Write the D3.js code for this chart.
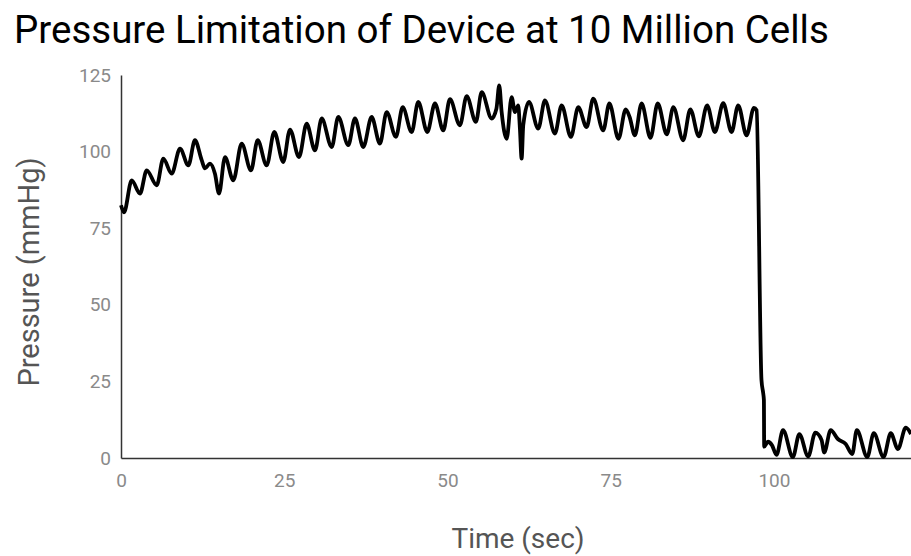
<!DOCTYPE html>
<html>
<head>
<meta charset="utf-8">
<script src="https://cdn.jsdelivr.net/npm/d3@7"></script>
<style>
  html, body { margin: 0; padding: 0; background: #fff; }
  svg { display: block; font-family: Roboto, "Noto Sans", sans-serif; }
</style>
</head>
<body>
<svg id="chart" width="911" height="556"></svg>
<script>
const title = "Pressure Limitation of Device at 10 Million Cells";
const xTitle = "Time (sec)";
const yTitle = "Pressure (mmHg)";
const xTicks = [0, 25, 50, 75, 100];
const yTicks = [0, 25, 50, 75, 100, 125];

// time (sec)
const time = [
  0, 0.46, 1.64, 2.91, 3.94, 5.47, 6.48, 7.76, 9.04, 10.31,
  11.33, 12.36, 12.86, 13.63, 14.39, 15.01, 15.93, 17.2, 18.48, 19.91,
  20.93, 22.31, 23.48, 24.85, 25.88, 27.26, 28.44, 29.71, 30.74, 32.27,
  33.28, 34.81, 35.83, 37.11, 38.39, 39.66, 40.69, 42.11, 43.14, 44.52,
  45.53, 46.91, 48.09, 49.36, 50.38, 51.91, 52.94, 54.36, 55.24, 56.77,
  57.5, 57.93, 58.3, 59.07, 59.83, 60.34, 60.84, 61.1, 61.36, 61.61,
  62.48, 63.91, 64.93, 66.46, 67.49, 68.91, 70.03, 71.32, 72.33, 73.86,
  74.8, 76.2, 77.3, 77.9, 78.7, 79.74, 81.1, 82.2, 83.6, 84.6,
  86.1, 87.2, 88.5, 89.78, 90.96, 92.24, 93.52, 94.53, 95.82, 96.94,
  97.35, 98.1, 98.36, 98.47, 98.51, 99.1, 99.7, 100.4, 101.4, 102.9,
  103.9, 105.25, 106.35, 107.3, 107.7, 108.7, 109.8, 111.0, 112.0, 112.7,
  114.3, 115.3, 116.8, 117.9, 119.0, 120.2, 121.0
];
// pressure (mmHg)
const pressure = [
  82.5, 80.2, 90.6, 86.3, 93.9, 89.0, 97.7, 92.8, 101.0, 95.5,
  103.7, 97.2, 94.5, 96.1, 92.8, 86.3, 98.2, 90.6, 102.6, 93.9,
  103.7, 95.5, 106.4, 96.6, 107.2, 98.2, 109.1, 100.4, 110.8, 101.5,
  111.3, 102.1, 110.8, 101.5, 111.3, 102.6, 112.9, 104.8, 114.5, 106.4,
  116.2, 106.4, 115.7, 106.9, 117.1, 108.6, 118.1, 109.7, 119.4, 110.8,
  114.0, 121.6, 112.9, 104.2, 117.8, 112.9, 115.1, 107.5, 97.7, 108.6,
  116.2, 107.5, 116.7, 105.9, 115.1, 104.8, 114.5, 108.0, 117.3, 106.9,
  115.7, 104.2, 113.8, 111.3, 105.3, 115.7, 104.5, 115.7, 105.6, 114.5,
  103.7, 113.8, 105.0, 115.1, 106.4, 115.8, 106.4, 115.1, 105.3, 114.3,
  113.5, 25.4, 21.2, 18.9, 3.7, 5.3, 4.2, 1.0, 9.1, 0.3,
  7.8, 0.5, 8.3, 5.9, 1.8, 9.1, 6.2, 4.6, 1.3, 9.1,
  0.3, 8.1, 0.3, 8.1, 2.9, 9.9, 7.8
];

const data = time.map((t, i) => ({ t, p: pressure[i] }));

const svg = d3.select("#chart");
const W = 911, H = 556;
const m = { left: 121, right: 0, top: 75, bottom: 98 };

const x = d3.scaleLinear().domain([0, 121]).range([m.left, W - m.right]);
const y = d3.scaleLinear().domain([0, 125]).range([H - m.bottom, m.top]);

// title
svg.append("text")
  .attr("x", 14).attr("y", 43)
  .attr("font-size", 38.5)
  .attr("fill", "#000")
  .text(title);

// axes
const xAxis = d3.axisBottom(x).tickValues(xTicks).tickSize(0).tickPadding(16).tickFormat(d3.format("d"));
const yAxis = d3.axisLeft(y).tickValues(yTicks).tickSize(0).tickPadding(10).tickFormat(d3.format("d"));

const gx = svg.append("g").attr("transform", `translate(0,${y(0)})`).call(xAxis);
gx.select(".domain").attr("stroke", "#333").attr("stroke-width", 1.5);
gx.selectAll(".tick text").attr("font-size", 19).attr("fill", "#8a8a8a").attr("font-family", "Roboto");

const gy = svg.append("g").attr("transform", `translate(${x(0)},0)`).call(yAxis);
gy.select(".domain").attr("stroke", "#333").attr("stroke-width", 1.5);
gy.selectAll(".tick text").attr("font-size", 19).attr("fill", "#8a8a8a").attr("font-family", "Roboto");

// axis titles
svg.append("text")
  .attr("x", (x(0) + x(121)) / 2 + 2).attr("y", 548)
  .attr("text-anchor", "middle")
  .attr("font-size", 28)
  .attr("fill", "#555")
  .text(xTitle);

svg.append("text")
  .attr("transform", `translate(39,272) rotate(-90)`)
  .attr("text-anchor", "middle")
  .attr("font-size", 29)
  .attr("fill", "#555")
  .text(yTitle);

// line
const line = d3.line().x(d => x(d.t)).y(d => y(d.p)).curve(d3.curveMonotoneX);
svg.append("path")
  .datum(data)
  .attr("fill", "none")
  .attr("stroke", "#000")
  .attr("stroke-width", 3.8)
  .attr("stroke-linejoin", "round")
  .attr("d", line);
</script>
</body>
</html>
